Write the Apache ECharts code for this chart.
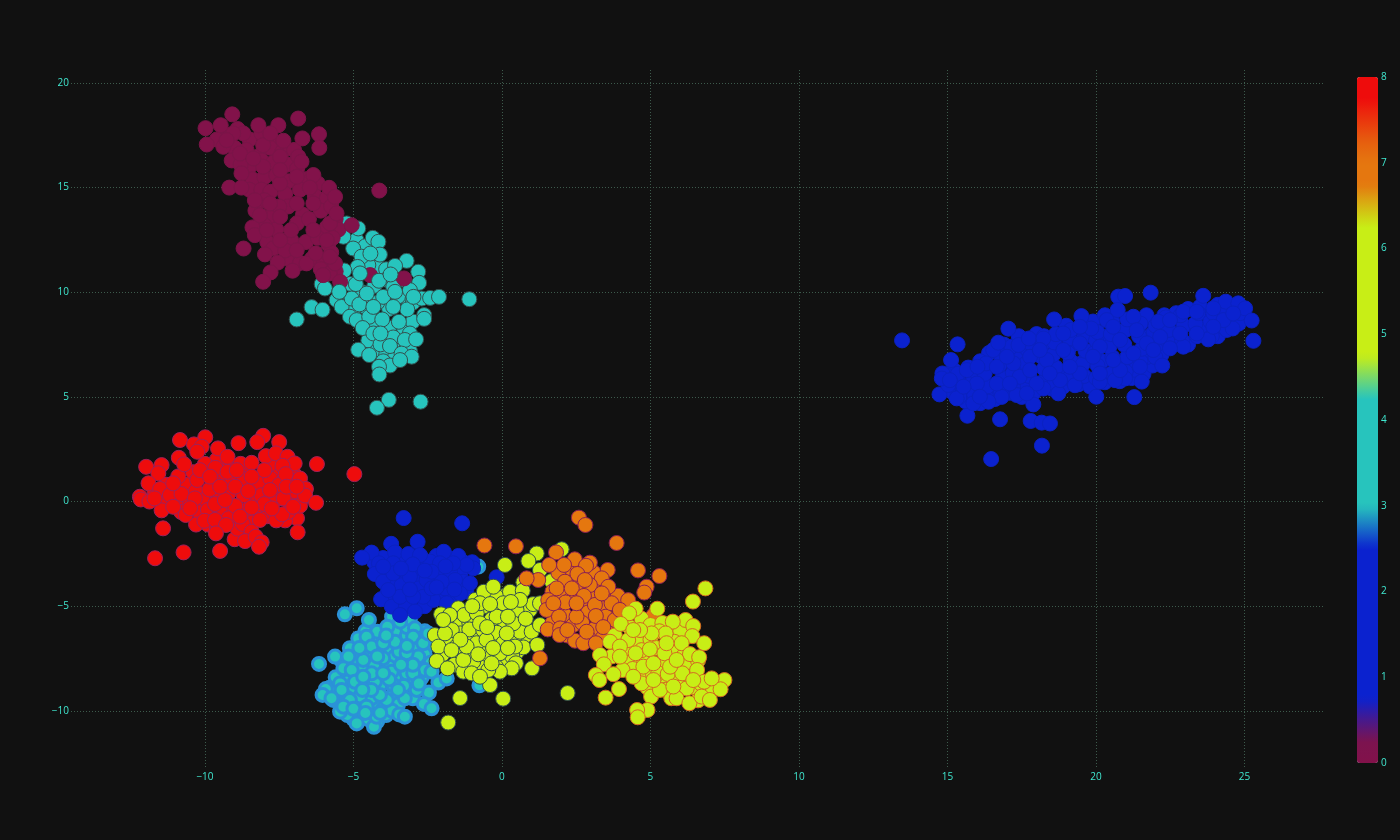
<!DOCTYPE html>
<html>
<head>
<meta charset="utf-8">
<script src="https://cdn.jsdelivr.net/npm/echarts@6/dist/echarts.min.js"></script>
<style>html,body{margin:0;padding:0;background:#111111}#c{width:1400px;height:840px}</style>
</head>
<body>
<div id="c"></div>
<script>
const xTicks = [-10, -5, 0, 5, 10, 15, 20, 25];
const yTicks = [-10, -5, 0, 5, 10, 15, 20];
const barTicks = [0, 1, 2, 3, 4, 5, 6, 7, 8];

const class0 = [[-9.3,17.5],[-8.9,17.8],[-8.5,17.3],[-8.1,17.6],[-7.7,17.2],[-9.6,17.3],[-9.0,16.9],[-8.6,16.8],[-8.2,16.5],[-7.8,16.9],[-7.4,16.7],[-7.0,16.8],[-9.1,16.3],[-8.5,16.0],[-8.1,16.3],[-7.7,16.2],[-7.2,16.1],[-6.9,15.9],[-8.8,16.1],[-8.4,15.4],[-8.0,15.5],[-7.6,15.6],[-7.2,15.3],[-6.6,15.4],[-6.2,15.2],[-8.5,14.9],[-8.1,14.9],[-7.8,14.8],[-7.3,14.7],[-6.8,14.9],[-6.3,14.6],[-5.9,14.5],[-8.0,14.4],[-8.3,13.9],[-7.8,13.6],[-7.2,14.1],[-6.7,13.7],[-6.1,13.9],[-5.75,14.1],[-5.6,13.5],[-7.5,14.1],[-8.0,13.2],[-7.6,13.0],[-6.9,13.3],[-6.5,13.5],[-5.9,13.1],[-5.5,13.0],[-8.4,13.1],[-7.9,12.4],[-7.1,12.5],[-6.6,12.4],[-6.2,12.6],[-5.85,12.3],[-5.7,12.6],[-7.7,12.1],[-7.2,11.6],[-6.8,11.4],[-6.4,11.6],[-6.0,11.4],[-5.75,11.9],[-5.6,11.0],[-7.3,12.0],[-6.1,11.1],[-5.8,10.9],
[-9.08,18.5],[-9.98,17.84],[-9.47,17.98],[-8.2,17.98],[-7.53,17.98],[-6.86,18.3],[-6.72,17.35],[-6.16,17.55],[-6.15,16.9],[-9.94,17.06],[-7.36,17.24],[-9.38,16.95],[-8.71,17.59],[-8.82,16.63],[-8.04,17.03],[-6.86,16.48],[-6.75,16.24],[-8.77,15.68],[-9.18,15.0],[-8.77,15.0],[-8.04,16.0],[-7.47,16.48],[-6.35,15.6],[-5.82,14.99],[-5.62,14.56],[-4.13,14.86],[-8.32,14.4],[-7.47,15.2],[-6.91,15.52],[-8.15,13.68],[-8.32,12.73],[-8.7,12.09],[-7.98,11.81],[-7.55,11.42],[-7.79,10.95],[-8.04,10.5],[-7.05,11.03],[-6.58,11.38],[-6.02,10.82],[-5.45,10.5],[-5.62,11.38],[-5.06,13.2],[-5.79,13.29],[-5.57,13.77],[-6.35,12.97],[-7.47,13.61],[-7.47,12.49],[-6.91,12.01],[-6.27,11.86],[-6.91,14.24],[-6.35,14.24],[-7.81,14.24],[-4.44,10.82],[-3.3,10.66],[-7.92,12.97],[-5.9,12.49],[-8.37,16.39],[-7.47,15.84],[-6.47,15.0],[-7.1,12.97],[-5.79,11.7],[-9.05,17.59],[-9.27,17.27],[-7.8,17.59]];

const class1 = [[17.1,5.2],[17.5,5.0],[17.9,5.2],[18.5,5.4],[18.9,5.5],[19.4,5.6],[19.8,5.5],[20.3,5.7],[20.8,5.75],[21.2,5.9],[21.6,6.1],[21.9,6.5],[21.3,6.3],[20.7,6.4],[20.2,6.7],[19.5,6.6],[19.0,6.1],[18.4,6.6],[17.5,6.4],[17.4,7.1],[16.9,7.5],[16.4,7.1],[16.1,6.7],[15.7,6.4],[15.2,6.3],[15.0,6.0],[15.2,5.2],[15.6,4.8],[16.1,4.7],[16.6,4.9],[19.2,7.5],[19.7,6.9],[20.3,7.8],[21.7,6.9],[22.2,7.0],[21.8,7.9],[22.6,7.5],[23.1,7.5],[23.6,8.2],[24.1,7.9],[24.2,8.4],[18.0,8.0],[17.4,7.9],[19.0,8.4],[19.9,8.6],[20.3,8.9],[21.3,8.6],[21.7,8.9],[22.3,8.9],[22.7,9.0],[23.1,9.2],[23.5,9.3],[24.1,9.4],
[15.4,5.0],[15.45,5.6],[15.35,6.1],[15.9,5.1],[15.85,5.75],[15.95,6.2],[16.3,5.0],[16.35,5.5],[16.25,6.1],[16.3,6.6],[16.8,5.3],[16.85,5.9],[16.75,6.5],[16.8,7.0],[17.25,5.5],[17.2,6.15],[17.3,6.9],[17.15,7.4],[17.7,5.55],[17.75,6.0],[17.65,6.6],[17.7,7.25],[17.75,7.6],[18.2,5.7],[18.25,6.35],[18.15,6.95],[18.2,7.5],[18.25,7.9],[18.6,5.65],[18.65,6.4],[18.55,7.0],[18.6,7.6],[18.65,8.0],[19.1,5.9],[19.15,6.7],[19.05,7.1],[19.1,7.8],[19.15,8.2],[19.6,6.0],[19.55,6.55],[19.65,7.2],[19.6,7.9],[19.55,8.4],[20.0,5.9],[20.05,6.5],[19.95,7.1],[20.0,7.7],[20.05,8.1],[20.5,6.1],[20.55,6.9],[20.45,7.4],[20.5,8.0],[20.55,8.6],[21.0,6.2],[21.05,6.9],[20.95,7.5],[21.0,8.2],[21.05,8.7],[21.5,6.7],[21.55,7.3],[21.45,7.9],[21.5,8.5],[22.0,6.9],[22.05,7.5],[21.95,8.1],[22.0,8.4],[22.4,7.7],[22.45,8.2],[22.35,8.8],[22.9,7.7],[22.95,8.4],[22.85,8.9],[23.4,7.9],[23.35,8.5],[23.45,9.0],[23.9,7.9],[23.85,8.6],[23.95,9.0],[24.4,8.2],[24.45,8.8],[24.35,9.2],[24.8,8.5],[24.85,9.0],
[13.47,7.7],[15.34,7.51],[15.12,6.76],[14.83,6.12],[14.73,5.12],[15.67,4.1],[16.77,3.93],[16.47,2.03],[18.18,2.67],[17.8,3.85],[18.17,3.77],[18.45,3.73],[17.89,4.64],[20.01,5.01],[21.29,4.99],[22.23,6.5],[17.05,8.26],[18.59,8.7],[19.51,8.86],[20.75,9.79],[20.98,9.82],[21.84,9.98],[23.61,9.83],[24.37,9.55],[24.79,9.47],[25.02,9.23],[25.24,8.65],[25.3,7.68],[24.6,8.27],[23.78,7.75],[22.94,7.4],[22.49,7.32],[21.54,5.73],[20.98,5.88],[20.64,5.8],[20.13,5.72],[19.29,5.56],[18.73,5.17],[18.23,5.4],[17.33,5.09],[16.82,5.0],[16.38,4.77],[15.87,4.69],[15.31,4.93],[15.03,5.57],[14.81,5.88],[15.08,5.8],[15.65,6.28],[16.01,6.44],[16.54,7.24],[16.71,7.59],[17.39,7.48],[17.74,7.79],[18.23,7.79],[18.9,8.03],[19.84,8.27],[20.36,8.67],[20.73,9.15],[21.26,8.83],[22.1,8.59],[22.49,8.67],[22.94,9.07],[23.39,9.07],[23.95,9.23],[24.29,8.67],[24.62,8.99],[23.95,8.35],[23.39,8.03],[22.83,8.03],[22.16,7.87],[21.71,7.56],[21.26,7.08],[21.48,6.44],[20.81,6.28],[20.13,6.12],[19.46,6.12],[18.79,5.8],[18.0,5.64],[17.43,5.96],[16.66,5.64],[15.99,5.64],[15.54,5.49],[16.09,5.01],[17.67,5.17],[17.22,6.6],[17.78,6.92],[18.34,6.76],[18.9,7.24],[19.46,7.56],[20.13,7.4],[20.81,7.72],[21.37,8.19],[21.93,7.24],[20.58,6.76],[19.9,6.92],[19.12,6.44],[18.44,6.12],[17.1,5.64],[16.66,6.44],[17.78,6.28],[19.46,8.35],[20.58,8.35],[18.11,7.24],[17.0,6.92]];

const class2 = [[-4.3,-2.9],[-3.9,-3.3],[-3.5,-2.7],[-3.2,-3.7],[-2.7,-2.7],[-2.2,-2.6],[-1.8,-2.7],[-1.3,-2.9],[-1.0,-2.9],[-3.7,-3.9],[-3.3,-4.3],[-2.8,-3.7],[-2.5,-4.3],[-2.1,-3.3],[-1.7,-3.7],[-1.4,-3.4],[-3.6,-4.9],[-3.1,-4.8],[-2.6,-5.0],[-2.1,-4.6],[-1.6,-4.6],[-1.2,-4.3],[-3.9,-4.5],[-2.6,-3.0],[-3.2,-3.2],[-4.0,-2.7],
[-3.31,-0.79],[-1.34,-1.04],[-3.73,-2.02],[-2.84,-1.92],[-4.39,-2.44],[-4.71,-2.68],[-4.14,-2.95],[-3.6,-2.43],[-3.15,-2.51],[-1.96,-2.4],[-1.47,-2.6],[-3.66,-2.95],[-2.42,-2.87],[-2.93,-3.19],[-4.28,-3.46],[-4.0,-3.83],[-3.38,-4.0],[-2.82,-4.15],[-4.07,-4.67],[-3.71,-5.02],[-3.23,-5.0],[-2.93,-5.26],[-2.31,-4.7],[-1.92,-4.15],[-1.3,-3.83],[-0.97,-3.19],[-1.19,-3.03],[-1.75,-3.35],[-2.2,-3.59],[-2.54,-3.75],[-3.1,-3.59],[-3.66,-3.43],[-1.08,-3.9],[-1.41,-4.39],[-1.86,-4.86],[-3.43,-5.42],[-2.65,-4.55],[-2.09,-2.95],[-1.64,-2.95],[-0.18,-3.62],[-4,-3.11],[-3.43,-4.55],[-2.99,-4.55],[-2.37,-4.15],[-1.58,-3.75],[-2.03,-3.83],[-3.83,-4.23],[-2.76,-2.56],[-2.37,-3.35],[-3.0,-3.0],[-2.6,-3.3],[-3.4,-3.2],[-1.9,-3.1],[-2.2,-4.1],[-3.1,-4.2],[-1.6,-4.2]];

const class3 = [[-5.8,-8.9],[-5.5,-9.3],[-5.0,-10.4],[-4.2,-10.5],[-3.9,-10.2],[-4.6,-6.2],[-4.3,-6.6],[-3.6,-6.2],[-3.2,-6.4],[-2.6,-6.2],[-2.4,-6.8],[-4.9,-7.6],[-4.5,-7.2],[-3.9,-7.1],[-3.6,-7.4],[-3.0,-7.0],[-2.6,-7.3],[-2.4,-7.7],[-5.4,-7.6],[-5.0,-8.3],[-4.7,-8.0],[-4.3,-7.8],[-3.8,-7.9],[-3.1,-8.6],[-2.7,-8.4],[-5.6,-8.4],[-5.2,-8.6],[-4.6,-8.7],[-4.1,-8.8],[-3.6,-8.4],[-3.3,-8.8],[-5.6,-9.0],[-5.1,-9.1],[-4.2,-9.6],[-3.7,-9.3],[-3.5,-9.7],[-3.0,-9.4],[-5.2,-9.4],[-4.8,-9.7],[-4.4,-9.4],[-5.2,-10.2],[-4.5,-10.4],[-4.0,-9.9],[-3.7,-10.0],[-3.2,-6.0],[-2.8,-6.5],[-3.7,-5.5],[-3.1,-5.6],
[-5.29,-5.39],[-4.89,-5.1],[-4.48,-5.66],[-4.2,-6.22],[-3.86,-5.98],[-3.43,-5.74],[-2.93,-6.06],[-4.84,-6.54],[-4.56,-6.46],[-5.12,-7.01],[-5.62,-7.41],[-6.16,-7.76],[-5.17,-7.41],[-5.34,-7.97],[-5.45,-8.69],[-5.93,-8.96],[-6.04,-9.24],[-5.68,-9.48],[-5.4,-9.0],[-5.45,-10.04],[-4.89,-10.6],[-4.31,-10.76],[-4.22,-10.28],[-4.78,-9.32],[-5.06,-8.05],[-4.39,-6.93],[-4.0,-7.49],[-3.47,-7.17],[-2.99,-6.46],[-2.65,-6.77],[-2.48,-6.3],[-2.82,-7.41],[-2.59,-8.05],[-2.37,-8.13],[-2.14,-8.65],[-1.86,-8.45],[-2.46,-9.13],[-2.63,-9.67],[-2.37,-9.88],[-3.46,-10.17],[-3.27,-10.28],[-3.27,-9.4],[-2.87,-9.0],[-3.66,-8.77],[-4.28,-8.61],[-3.71,-8.13],[-4.39,-8.21],[-3.21,-8.21],[-3.6,-6.7],[-4.0,-6.77],[-4.67,-7.57],[-4.95,-8.61],[-5.12,-9.48],[-4.56,-9.8],[-3.88,-9.48],[-2.99,-8.21],[-3.21,-7.25],[-4.11,-9.24],[-4.67,-8.37],[-5.34,-9.8],[-5.74,-9.4],[-0.76,-8.78],[-0.01,-7.76],[-0.8,-3.11],[-4.2,-7.4],[-3.8,-8.5],[-4.4,-9.0],[-3.0,-7.8],[-4.8,-7.0],[-3.5,-9.0],[-5.0,-9.9],[-4.1,-10.1],[-3.2,-6.9],[-4.6,-10.1],[-3.9,-6.4],[-2.8,-8.7],[-3.4,-7.8],[-4.0,-8.2],[-4.7,-9.0]];

const class4 = [[-4.9,12.5],[-4.6,12.2],[-4.2,11.2],[-4.5,11.3],[-3.9,11.1],[-3.9,10.6],[-4.3,10.3],[-4.7,10.0],[-5.1,10.4],[-3.3,10.6],[-3.2,9.7],[-3.5,9.8],[-3.8,9.2],[-4.2,9.5],[-4.6,9.3],[-5.0,9.2],[-3.0,9.5],[-4.3,8.4],[-3.8,8.3],[-3.3,8.3],[-3.0,8.6],[-4.5,7.7],[-4.0,7.8],[-3.6,7.5],[-3.2,7.4],[-4.2,7.2],[-3.9,7.0],[-3.6,6.9],[-3.1,7.2],[-4.0,6.7],
[-5.23,13.29],[-4.84,13.05],[-5.34,12.65],[-4.35,12.6],[-4.16,12.41],[-5.01,12.09],[-4.73,11.7],[-4.11,11.8],[-4.43,11.85],[-3.21,11.5],[-3.6,11.26],[-2.82,10.98],[-2.79,10.45],[-4.86,11.21],[-5.31,11.04],[-6.07,10.39],[-5.96,10.18],[-6.41,9.29],[-6.04,9.16],[-6.91,8.7],[-5.57,9.63],[-5.4,9.3],[-5.06,9.7],[-4.8,9.42],[-3.66,10.25],[-3.1,10.1],[-4.0,9.78],[-3.19,9.18],[-2.7,9.7],[-2.42,9.73],[-2.12,9.78],[-1.1,9.67],[-2.62,8.91],[-2.62,8.73],[-5.12,8.83],[-4.89,8.67],[-4.47,8.83],[-4.03,8.7],[-3.47,8.59],[-4.69,8.29],[-4.33,8.03],[-3.66,7.84],[-3.1,8.03],[-3.27,7.72],[-2.89,7.75],[-4.09,7.51],[-4.84,7.25],[-4.47,7.0],[-3.77,7.43],[-3.38,7.07],[-3.04,6.92],[-3.77,6.5],[-4.14,6.44],[-4.13,6.07],[-3.81,4.86],[-4.21,4.48],[-2.74,4.77],[-3.43,6.76],[-4.09,8.03],[-3.66,9.3],[-4.33,9.3],[-2.98,9.78]];
const class4Top = [[-4.14,10.55],[-4.92,10.39],[-3.75,10.85],[-3.6,10.02],[-4.55,9.94],[-4.78,10.9],[-5.48,10.02]];

const class5 = [[-0.3,-4.6],[0.1,-4.5],[0.5,-4.5],[-0.9,-4.7],[-1.0,-5.5],[-0.6,-5.0],[-0.2,-5.1],[0.3,-5.2],[0.7,-5.0],[-1.5,-5.7],[-1.1,-5.8],[-0.3,-5.9],[0.1,-5.8],[0.5,-5.6],[-1.4,-6.3],[-0.9,-6.3],[-0.4,-6.4],[0.4,-6.4],[0.8,-6.4],[-1.8,-6.7],[-1.2,-6.7],[-0.6,-6.9],[-0.1,-6.7],[0.4,-6.6],[-2.0,-7.3],[-1.5,-7.4],[-1.1,-7.2],[-0.4,-7.5],[0.1,-7.6],[-1.6,-7.8],[-0.7,-7.8],[-0.2,-7.9],[0.5,-7.2],
[0.1,-3.03],[1.17,-2.48],[0.89,-2.84],[1.28,-3.27],[1.67,-3.8],[0.72,-3.86],[-0.18,-4.55],[-0.61,-4.31],[0.27,-4.31],[0.7,-4.26],[0.94,-5.18],[1.05,-4.9],[-1.47,-5.1],[-2.05,-5.39],[-1.27,-5.42],[-0.35,-5.63],[-0.85,-5.34],[0.04,-4.86],[0.49,-5.18],[-1.69,-6.14],[-2.26,-6.38],[-2.14,-6.93],[-2.2,-7.62],[-1.83,-7.97],[-1.3,-8.13],[-0.97,-7.65],[-0.61,-7.25],[-1.1,-6.11],[-0.63,-6.14],[-0.18,-6.27],[0.61,-6.22],[1.0,-6.22],[1.28,-5.9],[0.04,-6.77],[0.72,-6.97],[1.19,-6.85],[0.35,-7.41],[0.47,-7.73],[1.01,-7.97],[0.33,-7.97],[-0.4,-8.77],[-0.07,-8.13],[-0.46,-8.05],[-1.41,-9.39],[0.04,-9.42],[-1.81,-10.56],[2.21,-9.15],[2.01,-2.28],[-1.75,-5.42],[-1.53,-6.93],[-0.85,-6.77],[-0.52,-6.6],[0.38,-5.82],[-0.18,-5.5],[-0.74,-4.86],[-0.29,-4.07],[-1.3,-7.57],[-0.07,-7.25],[-1.02,-8.21],[-0.74,-8.37],[-1.92,-6.3],[0.61,-4.7],[0.16,-6.3],[-1.19,-6.93],[-0.35,-7.73],[-1.98,-5.66],[0.44,-6.93],[-0.74,-5.82],[1.28,-4.86],[-0.4,-4.9],[0.2,-5.5],[-1.0,-5.0],[0.8,-5.6],[-1.4,-6.6],[-0.3,-7.0],[0.2,-7.0],[-0.8,-7.3],[-1.7,-7.1],[-0.5,-6.0],[0.3,-4.8]];

const class6 = [[4.7,-5.6],[5.0,-5.9],[5.4,-5.8],[5.7,-6.2],[6.0,-6.2],[4.3,-6.0],[3.8,-6.4],[4.6,-6.7],[5.0,-6.6],[5.8,-6.7],[4.2,-7.1],[4.7,-7.4],[5.2,-7.0],[5.7,-7.2],[6.1,-7.4],[3.7,-7.4],[4.3,-7.7],[4.9,-8.1],[5.4,-7.7],[6.2,-7.8],[6.6,-7.6],[4.4,-8.0],[4.6,-8.4],[5.4,-8.5],[5.9,-8.2],[6.3,-8.4],[4.9,-8.9],[5.5,-9.0],[6.0,-8.9],[6.5,-8.9],[7.0,-9.0],[6.7,-8.7],[5.7,-9.4],[6.6,-9.5],[4.7,-7.1],[5.3,-6.2],
[6.85,-4.15],[6.43,-4.78],[5.23,-5.12],[4.5,-5.12],[4.28,-5.34],[4.0,-5.85],[6.18,-5.66],[5.75,-5.74],[6.44,-5.95],[5.51,-6.3],[5.04,-6.3],[4.65,-6.14],[6.41,-6.43],[6.81,-6.77],[3.64,-6.7],[4.25,-6.62],[3.97,-6.93],[3.3,-7.33],[3.43,-7.78],[4.5,-7.25],[4.98,-7.06],[5.47,-7.25],[6.05,-6.77],[6.33,-7.29],[6.64,-7.44],[4.06,-8.05],[3.75,-8.25],[3.16,-8.29],[3.28,-8.53],[4.76,-7.89],[5.26,-8.21],[5.58,-8.24],[6.07,-8.21],[6.57,-8.05],[4.7,-8.69],[4.42,-8.37],[6.22,-8.93],[6.81,-8.61],[7.49,-8.53],[7.36,-8.97],[7.06,-8.45],[3.94,-8.96],[3.49,-9.37],[5.02,-9.32],[5.88,-9.4],[6.31,-9.64],[6.72,-9.32],[7.0,-9.48],[4.9,-9.96],[4.55,-9.96],[4.57,-10.31],[5.32,-9.0],[5.66,-7.89],[5.1,-7.73],[5.88,-7.57],[3.97,-7.41],[4.42,-6.14],[5.1,-8.53],[5.77,-8.84],[6.44,-8.53],[5.54,-6.77]];

const class7 = [[2.3,-3.2],[2.7,-3.4],[1.9,-3.4],[3.1,-3.4],[2.4,-3.9],[3.2,-4.2],[1.7,-4.3],[2.0,-4.4],[2.6,-4.0],[3.0,-4.5],[3.5,-4.5],[1.8,-5.2],[2.3,-4.7],[2.7,-5.0],[3.4,-5.1],[3.9,-4.5],[2.1,-5.4],[2.9,-5.3],[3.5,-5.5],[2.4,-5.9],[2.7,-5.8],[3.1,-6.1],[3.6,-6.3],[2.2,-6.4],[2.9,-6.5],[3.4,-6.5],[1.7,-5.8],[4.1,-5.4],
[-0.59,-2.1],[0.47,-2.14],[2.59,-0.77],[2.81,-1.12],[3.86,-1.98],[1.82,-2.43],[1.59,-3.03],[2.45,-2.76],[2.96,-2.92],[3.56,-3.27],[4.58,-3.29],[5.3,-3.56],[4.87,-4.07],[4.79,-4.35],[1.22,-3.75],[0.83,-3.67],[2.83,-3.07],[2.09,-3.03],[2.54,-3.46],[3.36,-3.67],[2.12,-3.83],[1.84,-4.15],[2.35,-4.15],[2.96,-3.99],[3.58,-4.07],[1.56,-4.71],[2.14,-4.82],[2.76,-4.51],[3.13,-4.94],[3.69,-4.86],[4.25,-4.71],[1.5,-5.18],[1.92,-5.5],[2.51,-5.5],[3.16,-5.47],[3.8,-5.66],[5.1,-5.44],[1.54,-6.11],[1.96,-6.06],[1.94,-6.38],[2.46,-6.65],[2.74,-6.77],[3.16,-6.77],[3.41,-6.0],[2.85,-6.22],[1.28,-7.49],[3.97,-5.18],[2.51,-4.86],[3.36,-4.39],[1.73,-4.86],[2.2,-6.14],[2.79,-3.75]];

const class8 = [[-9.3,1.8],[-8.6,1.6],[-7.6,1.4],[-7.0,1.3],[-10.6,0.2],[-9.9,-0.1],[-9.3,-0.5],[-8.3,0.0],[-7.4,0.4],[-6.7,0.2],[-6.9,-0.8],[-7.3,-0.9],[-8.8,-1.6],[-9.0,-1.8],[-9.9,-1.1],[-11.7,0.5],[-11.3,0.8],[-11.0,0.3],[-10.6,0.8],[-10.3,0.5],[-10.9,1.2],[-10.4,1.4],[-9.9,1.4],[-9.5,1.1],[-9.1,0.9],[-8.7,1.1],[-8.2,0.9],[-7.8,1.1],[-7.5,0.8],[-7.1,1.0],[-6.8,1.1],[-9.7,0.9],[-9.2,0.4],[-8.7,0.3],[-8.1,0.3],[-7.6,0.1],[-6.9,0.0],[-6.6,0.6],[-11.4,0.0],[-10.9,-0.2],[-10.5,-0.02],[-10.0,0.1],[-9.6,0.3],[-9.1,-0.3],[-8.6,-0.4],[-8.2,-0.4],[-7.8,0.1],[-7.2,-0.5],[-6.8,-0.2],[-10.8,-0.5],[-10.2,-0.5],[-9.9,-0.4],[-9.5,-0.5],[-9.0,-0.8],[-8.5,-0.8],[-7.9,-0.7],[-7.6,-0.9],[-10.3,-1.1],[-9.6,-1.2],[-9.2,-0.8],[-8.9,-1.3],[-8.4,-1.0],[-8.8,1.8],[-9.6,2.0],[-7.8,1.8],[-10.0,1.8],
[-10.84,2.94],[-9.99,3.07],[-10.37,2.73],[-10.11,2.62],[-10.26,2.38],[-9.56,2.54],[-8.87,2.79],[-8.04,3.14],[-8.24,2.84],[-7.5,2.84],[-6.23,1.79],[-4.97,1.31],[-11.98,1.66],[-11.46,1.74],[-11.57,1.35],[-10.88,2.09],[-10.7,1.78],[-7.95,2.17],[-7.61,2.3],[-7.22,2.14],[-6.98,1.82],[-7.39,1.71],[-7.28,1.31],[-8.43,1.85],[-8.0,1.5],[-9.24,2.14],[-9.65,1.61],[-9.24,1.42],[-10.26,1.03],[-11.9,0.87],[-11.51,0.6],[-12.19,0.23],[-12.16,0.1],[-11.87,0],[-11.18,0.31],[-10.79,0.36],[-10.34,0.15],[-9.85,0.58],[-8.98,0.71],[-8.54,0.5],[-8.43,1.19],[-7.81,0.55],[-6.98,0.5],[-6.63,0.29],[-6.26,-0.06],[-7.35,0.15],[-8.0,-0.12],[-7.4,-0.61],[-11.46,-0.42],[-11.07,-0.25],[-10.65,-0.64],[-9.66,-0.12],[-8.98,-0.21],[-10.02,-0.92],[-9.66,-0.88],[-9.29,-1.12],[-8.73,-1.07],[-8.43,-0.28],[-9.63,-1.52],[-8.43,-1.44],[-8.65,-1.89],[-8.29,-1.68],[-8.09,-1.95],[-8.18,-2.16],[-6.88,-1.47],[-11.41,-1.28],[-11.68,-2.71],[-10.72,-2.43],[-9.49,-2.36],[-9.33,0.07],[-7.75,-0.33],[-8.82,-0.72],[-7.03,-0.25],[-7.25,0.71],[-6.91,0.71],[-10.17,1.5],[-8.93,1.5],[-9.83,1.19],[-11.07,0.87],[-11.7,0.15],[-10.5,-0.32],[-8.15,-0.88],[-9.49,0.71]];

// colour scale, one entry per quarter unit from 0 to 8
const colorScale = [
 '#82124a','#7c134f','#47198c','#0b22cf',
 '#0b22cf','#0b22cf','#0b22cf','#0b22cf',
 '#0b22cf','#0b22cf','#0b22cf','#1973c6',
 '#27c4bd','#27c4bd','#27c4bd','#27c4bd',
 '#27c4bd','#27c4bd','#78d96a','#c8ee16',
 '#c8ee16','#c8ee16','#c8ee16','#c8ee16',
 '#c8ee16','#c8ee16','#d6b313','#e5770f',
 '#e5770f','#e65e0e','#ea350d','#ee0c0c','#ee0c0c'];

const layers = [
 {v:3, pts:class3, stroke:'#2b92d8', size:13, sw:3},
 {v:4, pts:class4, stroke:'#33504f', size:15, sw:1},
 {v:0, pts:class0, stroke:'#7a1548', size:15, sw:1},
 {v:4, pts:class4Top, stroke:'#33504f', size:15, sw:1},
 {v:2, pts:class2, stroke:'#0b22c0', size:15, sw:1},
 {v:5, pts:class5, stroke:'#33504f', size:15, sw:1},
 {v:7, pts:class7, stroke:'#8a1f55', size:15, sw:1},
 {v:6, pts:class6, stroke:'#d46a22', size:15, sw:1},
 {v:8, pts:class8, stroke:'#a0205a', size:15, sw:1},
 {v:1, pts:class1, stroke:'#0b22c0', size:15, sw:1}
];

const tickColor = '#40e8d0';
const gridColor = '#3d5a4c';
const fmt = v => String(v).replace('-', '\u2212');

const chart = echarts.init(document.getElementById('c'), null, {renderer:'canvas'});
chart.setOption({
 animation:false,
 backgroundColor:'#111111',
 textStyle:{fontFamily:'"Open Sans", sans-serif'},
 grid:[
  {left:71, top:70, width:1254, height:699, containLabel:false},
  {left:1357, top:77, width:21, height:686}
 ],
 xAxis:[
  {type:'value', gridIndex:0, min:-14.51, max:27.71,
   axisLine:{show:false}, axisTick:{show:false, customValues:xTicks},
   axisLabel:{customValues:xTicks, formatter:fmt, color:tickColor, fontSize:10, margin:3},
   splitLine:{show:true, lineStyle:{color:gridColor, type:[1,2], width:1}}},
  {type:'value', gridIndex:1, min:0, max:1, show:false}
 ],
 yAxis:[
  {type:'value', gridIndex:0, min:-12.78, max:20.62,
   axisLine:{show:false}, axisTick:{show:false, customValues:yTicks},
   axisLabel:{customValues:yTicks, formatter:fmt, color:tickColor, fontSize:10, margin:2},
   splitLine:{show:true, lineStyle:{color:gridColor, type:[1,2], width:1}}},
  {type:'value', gridIndex:1, min:0, max:8, interval:1, position:'right',
   axisLine:{show:false}, axisTick:{show:false},
   axisLabel:{customValues:barTicks, color:tickColor, fontSize:10, margin:3},
   splitLine:{show:false}}
 ],
 visualMap:{
  type:'continuous', min:0, max:8, dimension:2,
  seriesIndex:layers.map((l,i)=>i),
  calculable:false, realtime:false, hoverLink:false,
  left:1357, top:77, itemWidth:21, itemHeight:686, padding:0,
  text:null, showLabel:false,
  inRange:{color:colorScale},
  textStyle:{color:'rgba(0,0,0,0)', fontSize:1}
 },
 series:layers.map(l=>({
  type:'scatter', xAxisIndex:0, yAxisIndex:0,
  symbolSize:l.size,
  itemStyle:{borderColor:l.stroke, borderWidth:l.sw, opacity:1},
  emphasis:{disabled:true},
  data:l.pts.map(p=>[p[0],p[1],l.v])
 })).concat([{type:'scatter', xAxisIndex:1, yAxisIndex:1, data:[]}])
});
</script>
</body>
</html>
